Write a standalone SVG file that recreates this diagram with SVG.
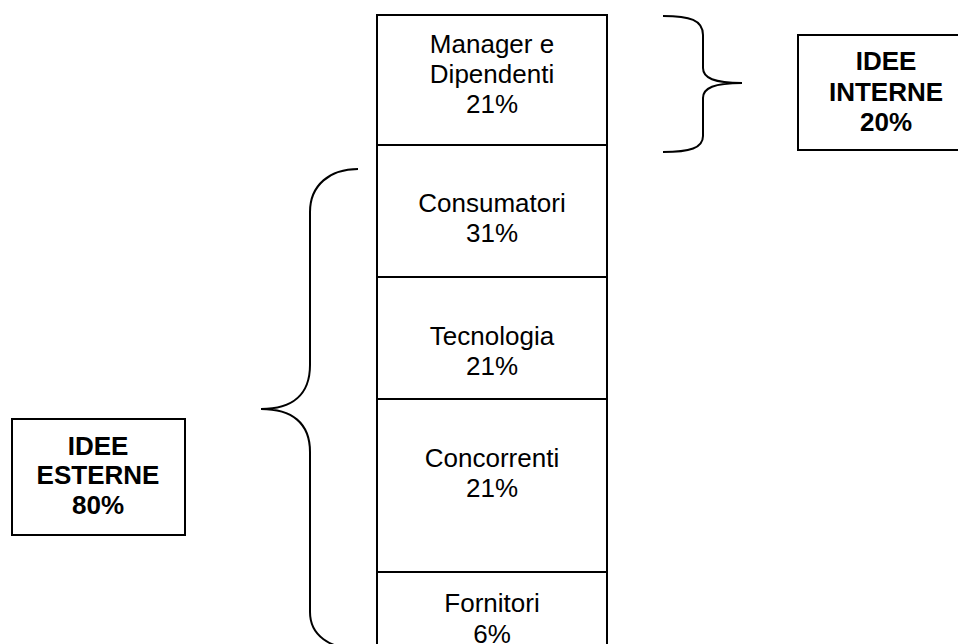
<svg xmlns="http://www.w3.org/2000/svg" width="958" height="644" viewBox="0 0 958 644">
<style>
.box{fill:#fff;stroke:#000;stroke-width:2}
.t{font-family:"Liberation Sans",Arial,sans-serif;font-size:26px;fill:#000;text-anchor:middle}
.b{font-family:"Liberation Sans",Arial,sans-serif;font-size:26px;font-weight:bold;fill:#000;text-anchor:middle}
.br{fill:none;stroke:#000;stroke-width:2}
</style>
<rect width="958" height="644" fill="#fff"/>
<g id="manager"><rect class="box" x="377" y="15" width="230" height="130"/>
<text class="t" x="492" y="53">Manager e</text><text class="t" x="492" y="83">Dipendenti</text><text class="t" x="492" y="113">21%</text></g>
<g id="consumatori"><rect class="box" x="377" y="145" width="230" height="132"/>
<text class="t" x="492" y="212">Consumatori</text><text class="t" x="492" y="242">31%</text></g>
<g id="tecnologia"><rect class="box" x="377" y="277" width="230" height="122"/>
<text class="t" x="492" y="345">Tecnologia</text><text class="t" x="492" y="375">21%</text></g>
<g id="concorrenti"><rect class="box" x="377" y="399" width="230" height="173"/>
<text class="t" x="492" y="467">Concorrenti</text><text class="t" x="492" y="497">21%</text></g>
<g id="fornitori"><rect class="box" x="377" y="572" width="230" height="90"/>
<text class="t" x="492" y="612">Fornitori</text><text class="t" x="492" y="643">6%</text></g>
<g id="interne"><rect class="box" x="798" y="35" width="200" height="115"/>
<text class="b" x="886" y="70">IDEE</text><text class="b" x="886" y="101">INTERNE</text><text class="b" x="886" y="131">20%</text></g>
<g id="esterne"><rect class="box" x="12" y="419" width="173" height="116"/>
<text class="b" x="98" y="455">IDEE</text><text class="b" x="98" y="484">ESTERNE</text><text class="b" x="98" y="514">80%</text></g>
<g id="connectors">
<path class="br" d="M663,16 C690,16 703,20 703,35 L703,68 C703,78 714,83 742,83 C714,83 703,88 703,98 L703,136 C703,148 690,152 663,152"/>
<path class="br" d="M358,169 C330,169 310,185 310,212 L310,365 C310,395 292,409 261,409 C292,409 310,423 310,452 L310,612 C310,636 330,648 358,650"/>
</g>
</svg>
